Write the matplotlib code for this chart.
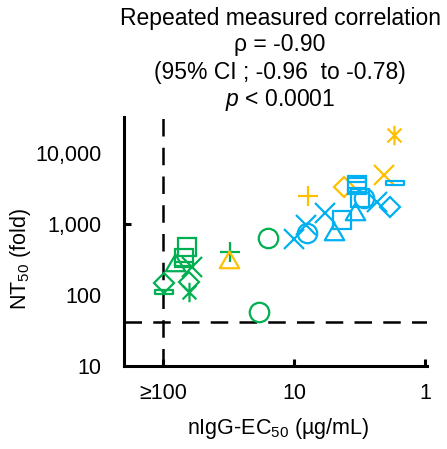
import numpy as np
import matplotlib
matplotlib.use("Agg")
import matplotlib.pyplot as plt
from matplotlib.path import Path

plt.rcParams['font.family'] = ['Liberation Sans', 'DejaVu Sans']
plt.rcParams['mathtext.fontset'] = 'custom'
plt.rcParams['mathtext.rm'] = 'Liberation Sans'
plt.rcParams['mathtext.it'] = 'Liberation Sans:italic'

# data: nIgG-EC50 (ug/mL) vs NT50 (fold)
ec50 = [66, 70, 70, 81, 60, 99, 99, 64, 64, 15.9, 18.7, 30.8,
        31.8, 7.86, 4.2, 2.08, 1.72,
        10.1, 8.0, 8.2, 5.8, 5.0, 4.33, 3.42, 3.32, 3.32, 3.32, 3.13, 2.96, 2.34, 1.85, 1.69]
nt50 = [480, 332, 275, 300, 250, 146, 111, 154, 111, 641, 58, 407,
        330, 2506, 3350, 4900, 17900,
        610, 754, 968, 1410, 822, 1140, 1570, 3540, 4170, 3010, 2300, 2300, 2060, 1750, 3740]
shape = ['sq', 'sq', 'bar', 'tri', 'x', 'dia', 'bar', 'dia', 'ast', 'o', 'o', '+',
         'tri', '+', 'dia', 'x', 'ast',
         'x', 'o', 'x', 'x', 'tri', 'sq', 'tri', 'sq', 'bar', 'bar', 'sq', 'o', 'x', 'dia', 'bar']
group = ['g'] * 12 + ['y'] * 5 + ['b'] * 15

y_ticks = [10, 100, 1000, 10000]
y_ticklabels = ['10', '100', '1,000', '10,000']
x_ticks = [100, 10, 1]
x_ticklabels = ['\u2265100', '10', '1']

colors = {'g': '#00B050', 'y': '#FFC000', 'b': '#00B0F0'}

# custom marker paths
bar_path = Path([(-1, -0.22), (1, -0.22), (1, 0.22), (-1, 0.22), (-1, -0.22)],
                [Path.MOVETO, Path.LINETO, Path.LINETO, Path.LINETO, Path.CLOSEPOLY])
tri_path = Path([(0, 0.72), (-1, -1), (1, -1), (0, 0.72)],
                [Path.MOVETO, Path.LINETO, Path.LINETO, Path.CLOSEPOLY])
a = np.cos(np.pi / 4)
ast_path = Path([(0, -1), (0, 1), (-a, -a), (a, a), (-a, a), (a, -a)],
                [Path.MOVETO, Path.LINETO, Path.MOVETO, Path.LINETO, Path.MOVETO, Path.LINETO])

markers = {
    'sq': ('s', 13.5),
    'o': ('o', 14),
    'tri': (tri_path, 14),
    'dia': ('D', 10.5),
    'x': ('x', 14),
    '+': ('+', 14),
    'ast': (ast_path, 14),
    'bar': (bar_path, 13),
}

fig = plt.figure(figsize=(4.47, 4.49), dpi=100)
ax = fig.add_axes([124 / 447, 1 - 366 / 449, 303 / 447, 249 / 449])

ax.set_xscale('log')
ax.set_yscale('log')
ax.set_xlim(200, 0.97)
ax.set_ylim(10, 32000)

# reference lines
ax.axvline(100, color='black', lw=1.8, dashes=(7, 4.5), zorder=1)
ax.axhline(42, color='black', lw=1.8, dashes=(7, 4.5), zorder=1)

for xv, yv, s, g in zip(ec50, nt50, shape, group):
    m, ms = markers[s]
    ax.plot(xv, yv, linestyle='none', marker=m, markersize=ms, mfc='none',
            mec=colors[g], mew=1.6, zorder=3)

for side in ['top', 'right']:
    ax.spines[side].set_visible(False)
for side in ['left', 'bottom']:
    ax.spines[side].set_linewidth(2.2)
    ax.spines[side].set_capstyle('projecting')

ax.set_xticks(x_ticks)
ax.set_xticklabels(x_ticklabels)
ax.set_yticks(y_ticks)
ax.set_yticklabels(y_ticklabels)
ax.minorticks_off()
ax.tick_params(axis='both', direction='in', length=5, width=2.2, labelsize=15.5)
ax.tick_params(axis='x', pad=12)
ax.tick_params(axis='y', pad=16)
# only the 1,000 tick has a visible mark on the y axis
for t, v in zip(ax.yaxis.get_major_ticks(), y_ticks):
    if v != 1000:
        t.tick1line.set_visible(False)

ax.text(0.51, -0.25, 'nIgG-EC$_{50}$ (\u00b5g/mL)', transform=ax.transAxes,
        ha='center', va='center', fontsize=15.5)
ax.text(-0.343, 0.43, 'NT$_{50}$ (fold)', transform=ax.transAxes,
        ha='center', va='center', rotation=90, fontsize=15.5)

title_lines = ['Repeated measured correlation', '\u03c1 = -0.90',
               '(95% CI ; -0.96  to -0.78)', '$p$ < 0.0001']
title_y = [18, 45, 73, 100]
for line, yp in zip(title_lines, title_y):
    fig.text(280 / 447, 1 - yp / 449, line, ha='center', va='center', fontsize=16.5)

fig.savefig('out.png', dpi=100)
